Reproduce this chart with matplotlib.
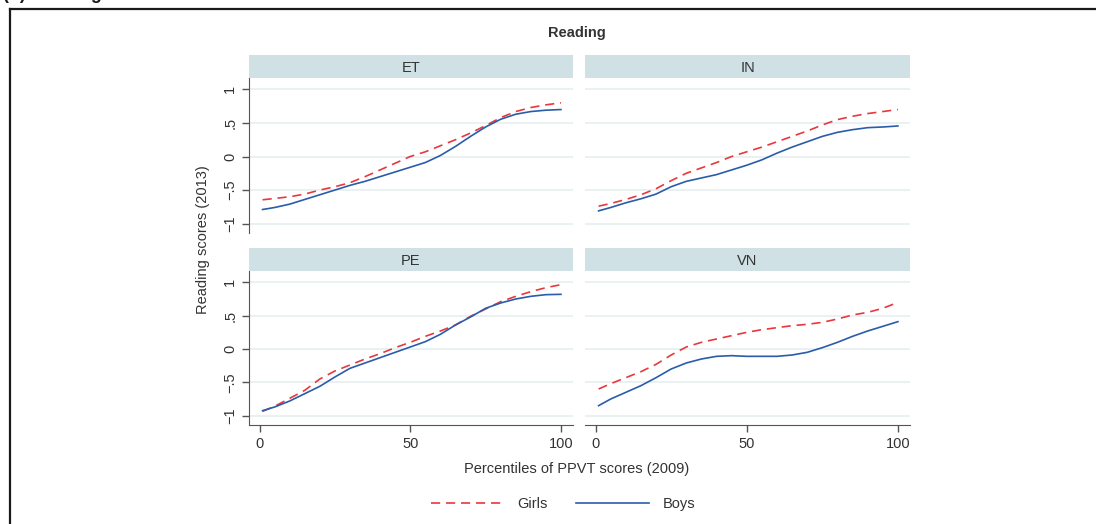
import numpy as np
import matplotlib
matplotlib.use("Agg")
import matplotlib.pyplot as plt
from matplotlib.lines import Line2D

plt.rcParams['font.family'] = ['Liberation Sans', 'DejaVu Sans']

# percentiles of PPVT scores (2009)
pct = [1, 5, 10, 15, 20, 25, 30, 35, 40, 45, 50, 55, 60, 65, 70, 75, 80, 85, 90, 95, 100]

et_girls = [-0.645, -0.625, -0.60, -0.56, -0.50, -0.45, -0.39, -0.30, -0.20, -0.10, 0.00,
            0.07, 0.16, 0.25, 0.35, 0.46, 0.58, 0.67, 0.73, 0.77, 0.80]
et_boys = [-0.79, -0.76, -0.71, -0.64, -0.57, -0.50, -0.43, -0.37, -0.30, -0.23, -0.16,
           -0.09, 0.015, 0.15, 0.30, 0.44, 0.555, 0.63, 0.67, 0.69, 0.70]
in_girls = [-0.74, -0.70, -0.64, -0.57, -0.48, -0.36, -0.25, -0.17, -0.09, 0.00, 0.07,
            0.14, 0.22, 0.30, 0.38, 0.47, 0.55, 0.60, 0.64, 0.67, 0.70]
in_boys = [-0.81, -0.76, -0.69, -0.63, -0.56, -0.45, -0.37, -0.32, -0.27, -0.20, -0.13,
           -0.05, 0.05, 0.14, 0.22, 0.30, 0.36, 0.40, 0.43, 0.44, 0.455]
pe_girls = [-0.935, -0.86, -0.74, -0.62, -0.45, -0.33, -0.24, -0.15, -0.07, 0.02, 0.10,
            0.19, 0.27, 0.36, 0.49, 0.60, 0.71, 0.79, 0.86, 0.92, 0.965]
pe_boys = [-0.925, -0.87, -0.78, -0.67, -0.56, -0.42, -0.29, -0.21, -0.13, -0.05, 0.03,
           0.11, 0.22, 0.36, 0.48, 0.61, 0.69, 0.75, 0.79, 0.815, 0.82]
vn_girls = [-0.60, -0.52, -0.43, -0.34, -0.23, -0.09, 0.03, 0.10, 0.15, 0.20, 0.25,
            0.29, 0.32, 0.35, 0.37, 0.40, 0.45, 0.51, 0.55, 0.61, 0.70]
vn_boys = [-0.85, -0.75, -0.65, -0.55, -0.43, -0.30, -0.21, -0.15, -0.11, -0.10, -0.11,
           -0.11, -0.11, -0.09, -0.05, 0.02, 0.10, 0.19, 0.27, 0.34, 0.41]

countries = ["ET", "IN", "PE", "VN"]
girls = [et_girls, in_girls, pe_girls, vn_girls]
boys = [et_boys, in_boys, pe_boys, vn_boys]

yticks = [-1, -0.5, 0, 0.5, 1]
ytick_labels = ["\u22121", "\u2212.5", "0", ".5", "1"]
xticks = [0, 50, 100]

W, H = 1096, 524
RED = "#e8383d"
BLUE = "#2a5caa"
STRIP = "#d0e1e6"
GRID = "#e6eff1"
AXC = "#555555"
TXT = "#333333"
FS = 10.5

fig = plt.figure(figsize=(W / 100, H / 100), dpi=100)

# panel boxes in pixels: (left, top, right, bottom)
boxes = [(249, 78, 573, 233), (585, 78, 910, 233),
         (249, 271, 573, 425), (585, 271, 910, 425)]

for i, (name, g, b) in enumerate(zip(countries, girls, boys)):
    l, t, r, btm = boxes[i]
    ax = fig.add_axes([l / W, 1 - btm / H, (r - l) / W, (btm - t) / H])
    ax.set_xlim(-3.5, 104)
    ax.set_ylim(-1.14, 1.17)
    for y in yticks:
        ax.axhline(y, color=GRID, lw=1.2, zorder=0)
    ax.plot(pct, g, color=RED, ls=(0, (5.5, 3.5)), lw=1.2)
    ax.plot(pct, b, color=BLUE, lw=1.2)
    for s in ax.spines.values():
        s.set_visible(False)
    ax.set_yticks(yticks)
    ax.set_xticks(xticks)
    ax.tick_params(colors=AXC, labelcolor=TXT, labelsize=FS, length=5, width=1)
    if i % 2 == 0:
        ax.spines['left'].set_visible(True)
        ax.spines['left'].set_color(AXC)
        ax.set_yticklabels(ytick_labels, rotation=90, va='center')
    else:
        ax.tick_params(axis='y', left=False, labelleft=False)
    if i >= 2:
        ax.spines['bottom'].set_visible(True)
        ax.spines['bottom'].set_color(AXC)
    else:
        ax.tick_params(axis='x', bottom=False, labelbottom=False)

    # strip
    sax = fig.add_axes([l / W, 1 - t / H, (r - l) / W, 23 / H])
    sax.set_facecolor(STRIP)
    sax.set_xticks([])
    sax.set_yticks([])
    for s in sax.spines.values():
        s.set_visible(False)
    sax.text(0.5, 0.5, name, ha='center', va='center_baseline', fontsize=FS, color=TXT,
             transform=sax.transAxes)

fig.text(577 / W, 1 - 32 / H, "Reading", ha='center', va='center_baseline', fontsize=FS,
         weight='bold', color=TXT)
fig.text(203 / W, 1 - 240 / H, "Reading scores (2013)", rotation=90, ha='center',
         va='center', fontsize=FS, color=TXT)
fig.text(577 / W, 1 - 468 / H, "Percentiles of PPVT scores (2009)", ha='center',
         va='center_baseline', fontsize=FS, color=TXT)

handles = [Line2D([], [], color=RED, ls=(0, (5.5, 3.5)), lw=1.2),
           Line2D([], [], color=BLUE, lw=1.2)]
fig.legend(handles, ["Girls", "Boys"], loc='center', bbox_to_anchor=(563 / W, 1 - 504 / H),
           ncol=2, frameon=False, fontsize=FS, handlelength=5.0, columnspacing=2.0,
           handletextpad=0.9, labelcolor=TXT)

# outer frame (top and left edges visible)
fig.add_artist(Line2D([9.5 / W, 1], [1 - 9 / H, 1 - 9 / H], color="#1a1a1a", lw=1.6))
fig.add_artist(Line2D([10 / W, 10 / W], [0, 1 - 9 / H], color="#1a1a1a", lw=1.6))
fig.text(3 / W, 1 + 1 / H, "(b) Reading", ha='left', va='baseline', fontsize=13,
         weight='bold', color="#1a1a1a")

fig.savefig("out.png", dpi=100)
